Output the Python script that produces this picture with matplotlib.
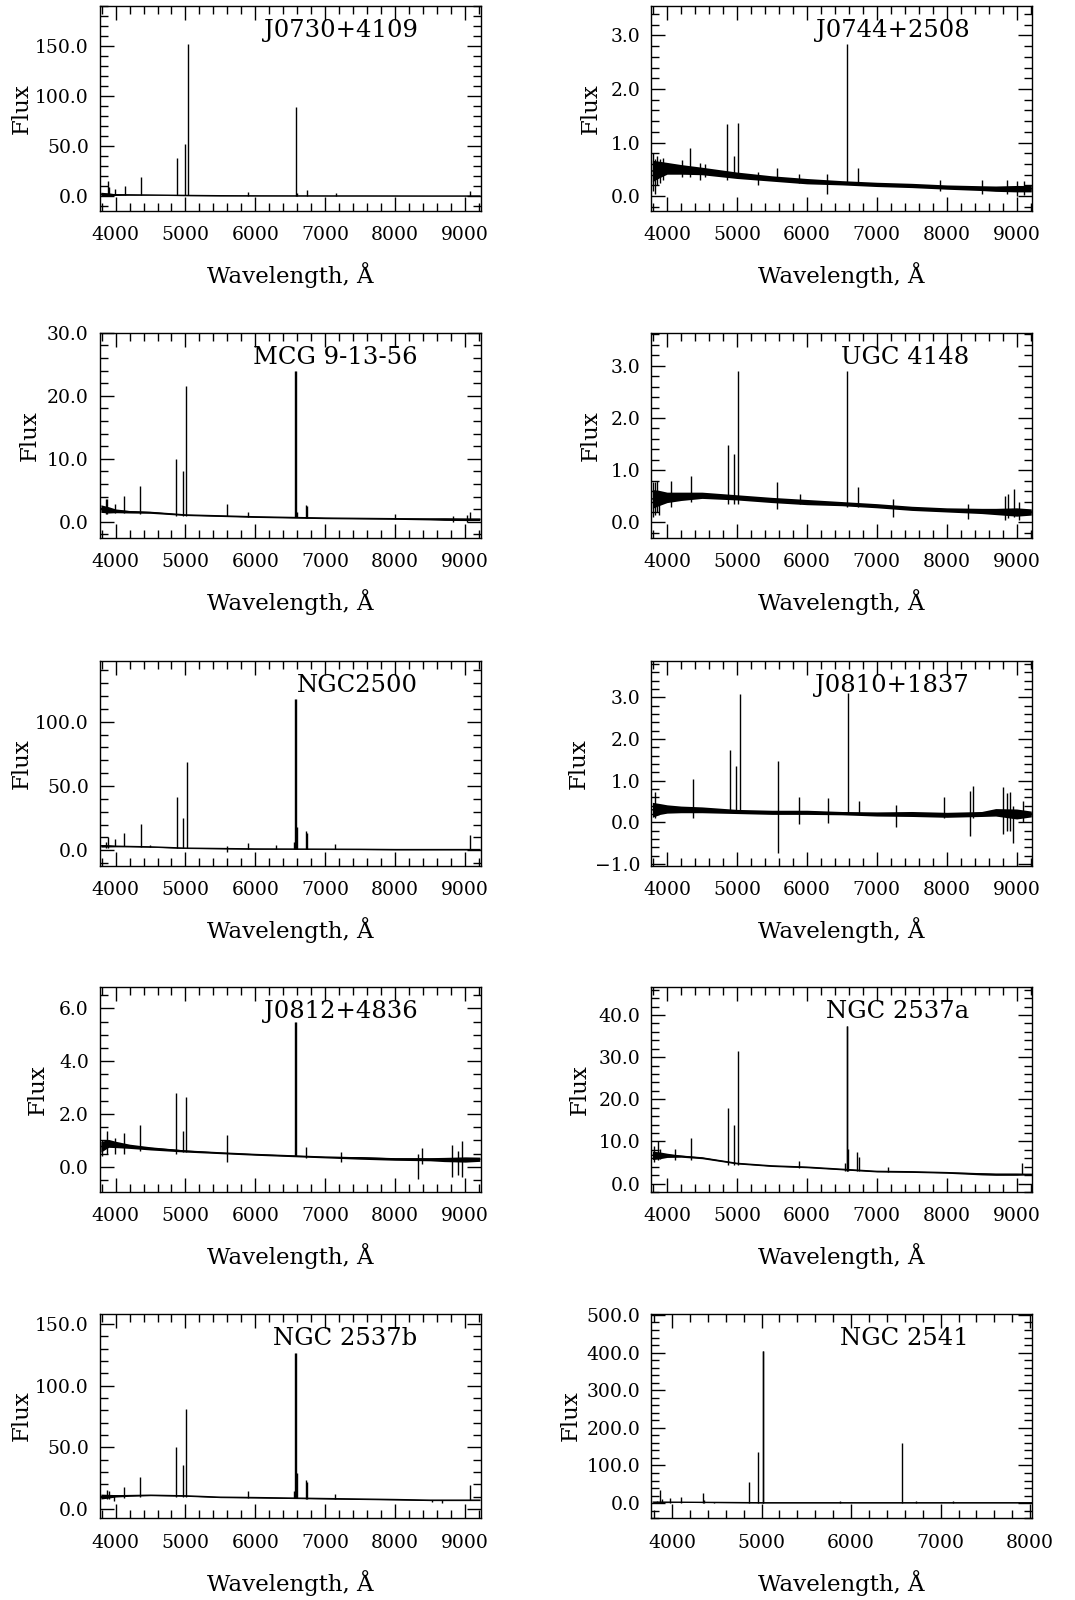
import numpy as np
import matplotlib.pyplot as plt
from matplotlib.ticker import MultipleLocator, FuncFormatter

plt.rcParams['font.family'] = ['DejaVu Serif']

# continuum knots (Angstrom), shared by all spectra
cont_w = [3790, 3900, 4000, 4200, 4500, 5000, 5500, 6000, 6500, 7000,
          7500, 8000, 8500, 8700, 9000, 9210]

names = ["J0730+4109", "J0744+2508", "MCG 9-13-56", "UGC 4148", "NGC2500",
         "J0810+1837", "J0812+4836", "NGC 2537a", "NGC 2537b", "NGC 2541"]

# continuum level and noise half-width at the knots
j0730_cont = [2.0, 1.8, 1.5, 1.4, 1.2, 0.8, 0.5, 0.4, 0.35, 0.3, 0.3, 0.25, 0.2, 0.2, 0.2, 0.2]
j0730_noise = [2.0, 1.5, 0.8, 0.4, 0.3, 0.3, 0.2, 0.2, 0.2, 0.2, 0.2, 0.2, 0.2, 0.2, 0.2, 0.2]
j0744_cont = [0.47, 0.5, 0.52, 0.5, 0.47, 0.39, 0.33, 0.28, 0.25, 0.22, 0.2, 0.17, 0.15, 0.14, 0.14, 0.14]
j0744_noise = [0.2, 0.15, 0.11, 0.09, 0.07, 0.06, 0.05, 0.05, 0.04, 0.04, 0.04, 0.04, 0.045, 0.05, 0.06, 0.06]
mcg_cont = [2.1, 1.9, 1.75, 1.6, 1.5, 1.1, 0.95, 0.8, 0.7, 0.6, 0.55, 0.5, 0.45, 0.43, 0.4, 0.4]
mcg_noise = [0.6, 0.5, 0.3, 0.2, 0.15, 0.1, 0.1, 0.1, 0.1, 0.1, 0.1, 0.1, 0.15, 0.2, 0.2, 0.2]
ugc_cont = [0.45, 0.47, 0.48, 0.5, 0.52, 0.48, 0.43, 0.39, 0.36, 0.32, 0.27, 0.24, 0.22, 0.21, 0.2, 0.2]
ugc_noise = [0.18, 0.14, 0.1, 0.08, 0.06, 0.05, 0.05, 0.05, 0.04, 0.04, 0.04, 0.04, 0.05, 0.06, 0.08, 0.06]
n2500_cont = [3.4, 3.3, 3.1, 2.9, 2.6, 1.6, 1.3, 1.0, 0.9, 0.8, 0.7, 0.5, 0.5, 0.5, 0.5, 0.5]
n2500_noise = [1.0, 0.8, 0.5, 0.3, 0.3, 0.3, 0.3, 0.3, 0.3, 0.3, 0.3, 0.3, 0.3, 0.3, 0.3, 0.3]
j0810_cont = [0.3, 0.32, 0.32, 0.31, 0.3, 0.26, 0.24, 0.24, 0.22, 0.2, 0.2, 0.18, 0.2, 0.24, 0.2, 0.2]
j0810_noise = [0.18, 0.13, 0.1, 0.08, 0.07, 0.05, 0.05, 0.05, 0.04, 0.05, 0.06, 0.06, 0.06, 0.09, 0.12, 0.07]
j0812_cont = [0.76, 0.89, 0.85, 0.78, 0.7, 0.6, 0.53, 0.47, 0.42, 0.37, 0.34, 0.3, 0.29, 0.28, 0.28, 0.29]
j0812_noise = [0.2, 0.15, 0.12, 0.08, 0.06, 0.04, 0.03, 0.03, 0.03, 0.03, 0.05, 0.05, 0.06, 0.08, 0.1, 0.08]
n2537a_cont = [6.7, 6.7, 6.7, 6.5, 6.1, 4.8, 4.2, 3.9, 3.4, 2.9, 2.8, 2.6, 2.3, 2.2, 2.2, 2.2]
n2537a_noise = [1.0, 0.8, 0.5, 0.25, 0.2, 0.15, 0.15, 0.15, 0.15, 0.15, 0.15, 0.15, 0.25, 0.25, 0.25, 0.15]
n2537b_cont = [10.2, 10.5, 10.8, 11.0, 11.3, 10.8, 9.7, 9.4, 9.0, 8.6, 8.2, 7.8, 7.3, 7.3, 7.3, 7.3]
n2537b_noise = [2.0, 1.5, 1.0, 0.6, 0.4, 0.4, 0.4, 0.4, 0.4, 0.4, 0.4, 0.4, 0.4, 0.4, 0.4, 0.4]
n2541_cont = [2.6, 2.6, 2.5, 2.2, 1.8, 1.0, 1.0, 1.0, 1.0, 1.0, 1.0, 1.0, 1.0, 1.0, 1.0, 1.0]
n2541_noise = [1.5, 1.5, 1.0, 0.5, 0.5, 0.5, 0.5, 0.5, 0.5, 0.5, 0.5, 0.5, 0.5, 0.5, 0.5, 0.5]

# narrow features: (wavelength, bottom, top)
j0730_lines = [(3890, 2, 15), (3905, 2, 9), (3990, 1.5, 7), (4134, 1.4, 10), (4368, 1.3, 19),
               (4885, 0.9, 38), (4986, 0.8, 52), (5029, 0.8, 152), (5890, 0.4, 4),
               (6574, 0.35, 89), (6593, 0.35, 3), (6737, 0.3, 6), (7148, 0.3, 3), (9072, 0.2, 5)]
j0744_lines = [(3800, 0.1, 0.8), (3830, 0.05, 0.7), (3860, 0.2, 0.75), (3900, 0.25, 0.7),
               (3948, 0.3, 0.72), (4214, 0.35, 0.68), (4333, 0.35, 0.9), (4476, 0.3, 0.62),
               (4548, 0.35, 0.6), (4857, 0.3, 1.34), (4962, 0.35, 0.75), (5010, 0.35, 1.37),
               (5300, 0.2, 0.45), (5571, 0.3, 0.52), (5881, 0.25, 0.42), (6295, 0.05, 0.41),
               (6571, 0.22, 2.83), (6738, 0.2, 0.52), (7900, 0.1, 0.3), (8500, 0.05, 0.3),
               (8860, 0.05, 0.3), (9000, 0.0, 0.28), (9100, 0.02, 0.28)]
mcg_lines = [(3870, 1.2, 3.7), (3880, 1.3, 3.6), (3990, 1.4, 2.8), (4120, 1.4, 4.1),
             (4350, 1.3, 5.7), (4871, 1.0, 9.9), (4971, 1.0, 8.05), (5014, 1.0, 21.6),
             (5589, 0.9, 2.8), (5890, 0.8, 1.6), (6569, 0.7, 23.9), (6576, 0.7, 23.9),
             (6588, 0.7, 1.5), (6722, 0.6, 2.7), (6737, 0.6, 2.5), (7990, 0.5, 1.2),
             (8830, 0.0, 1.0), (9030, 0.0, 1.1), (9072, 0.3, 1.5)]
ugc_lines = [(3800, 0.1, 0.78), (3824, 0.15, 0.78), (3858, 0.2, 0.8), (3880, 0.15, 0.5),
             (4057, 0.3, 0.8), (4348, 0.4, 0.89), (4867, 0.35, 1.48), (4962, 0.35, 1.31),
             (5014, 0.35, 2.9), (5571, 0.25, 0.78), (5895, 0.35, 0.54), (6571, 0.3, 2.9),
             (6729, 0.3, 0.67), (7238, 0.1, 0.45), (8310, 0.06, 0.35), (8830, 0.05, 0.5),
             (8870, 0.08, 0.55), (8962, 0.1, 0.64), (9030, 0.05, 0.4)]
n2500_lines = [(3870, 2, 6.7), (3890, 2, 10.4), (3990, 3, 8.5), (4120, 3, 13), (4359, 2.8, 20.7),
               (4488, 2.6, 4), (4876, 1.7, 41.7), (4971, 1.6, 25.4), (5019, 1.6, 69),
               (5593, -1.3, 3.6), (5890, 1.0, 5.7), (6301, 0.9, 3.9), (6550, 0.9, 6.7),
               (6569, 0.9, 118), (6575, 0.9, 118), (6588, 0.9, 18.4), (6722, 0.8, 15),
               (6737, 0.8, 13.7), (7143, 0.8, 4.7), (9072, 0.5, 12)]
j0810_lines = [(3833, 0.1, 0.72), (4367, 0.1, 1.04), (4895, 0.25, 1.74), (4986, 0.25, 1.35),
               (5038, 0.25, 3.08), (5581, -0.74, 1.48), (5890, -0.04, 0.62), (6305, -0.02, 0.58),
               (6595, 0.2, 3.1), (6748, 0.2, 0.5), (7271, -0.12, 0.42), (7962, 0.1, 0.62),
               (8333, -0.34, 0.76), (8381, 0.1, 0.88), (8810, -0.28, 0.84), (8860, -0.2, 0.7),
               (8905, -0.2, 0.72), (8943, -0.5, 0.4), (9095, 0.0, 0.52)]
j0812_lines = [(3800, 0.4, 1.0), (3880, 0.5, 1.35), (3990, 0.5, 1.08), (4120, 0.5, 1.27),
               (4350, 0.6, 1.58), (4871, 0.5, 2.78), (4971, 0.55, 1.37), (5014, 0.55, 2.66),
               (5589, 0.19, 1.2), (6569, 0.4, 5.47), (6575, 0.4, 5.47), (6727, 0.35, 0.76),
               (7230, 0.2, 0.57), (8330, -0.44, 0.5), (8388, 0.1, 0.72), (8809, -0.38, 0.82),
               (8900, -0.3, 0.6), (8952, -0.38, 0.99)]
n2537a_lines = [(3820, 5.2, 9.0), (3867, 5.5, 10.2), (3905, 5.8, 8.3), (4110, 5.5, 8.2),
                (4348, 5.7, 10.7), (4871, 4.5, 17.9), (4962, 4.5, 13.9), (5014, 4.5, 31.5),
                (5890, 3.6, 5.3), (6548, 3.1, 4.8), (6571, 3.1, 37.5), (6577, 3.1, 37.5),
                (6585, 3.1, 8.1), (6724, 3.0, 7.5), (6740, 3.0, 6.3), (7157, 2.7, 4.0),
                (9081, 2.2, 4.9)]
n2537b_lines = [(3871, 8, 15.3), (3900, 8, 14.8), (3980, 6.7, 11), (4120, 9, 18), (4350, 9.5, 26.3),
                (4871, 9.5, 50), (4971, 9.5, 35.8), (5014, 9.5, 81.5), (5890, 9.2, 14.8),
                (6550, 8.8, 14.8), (6569, 8.8, 126.3), (6575, 8.8, 126.3), (6588, 8.8, 29.6),
                (6718, 8.6, 23.7), (6737, 8.6, 22), (7144, 8.4, 12.1), (8522, 5.4, 7.3),
                (8670, 5.0, 7.3), (9072, 7.3, 19.6)]
n2541_lines = [(3815, 1, 3.5), (3833, 1, 6), (3870, 1, 34.5), (3885, 1, 10.6), (3974, 1, 12.4),
               (4104, 1, 15), (4341, 1, 26.5), (4360, 1, 8), (4474, 1, 3.5), (4863, 1, 57.4),
               (4963, 1, 137), (5011, 1, 404), (5014, 1, 404), (5881, 1, 6), (6567, 1, 160.8),
               (6722, 1, 5.3), (7141, 1, 4.4)]

conts = [j0730_cont, j0744_cont, mcg_cont, ugc_cont, n2500_cont,
         j0810_cont, j0812_cont, n2537a_cont, n2537b_cont, n2541_cont]
noises = [j0730_noise, j0744_noise, mcg_noise, ugc_noise, n2500_noise,
          j0810_noise, j0812_noise, n2537a_noise, n2537b_noise, n2541_noise]
lines = [j0730_lines, j0744_lines, mcg_lines, ugc_lines, n2500_lines,
         j0810_lines, j0812_lines, n2537a_lines, n2537b_lines, n2541_lines]

# axis setup per panel
ylims = [(-15, 190), (-0.28, 3.54), (-2.5, 30), (-0.29, 3.63), (-12, 147.5),
         (-1.04, 3.88), (-0.95, 6.8), (-2, 46.6), (-7.5, 158.5), (-40.6, 503.5)]
ymajor = [50, 1, 10, 1, 50, 1, 2, 10, 50, 100]
yminor = [10, 0.2, 2, 0.2, 10, 0.2, 0.5, 2, 10, 20]
ylabel_x = [-0.206, -0.16, -0.185, -0.16, -0.206, -0.191, -0.164, -0.188, -0.206, -0.212]

fig = plt.figure(figsize=(10.75, 16), dpi=100)
row_bottoms = [0.868, 0.664, 0.459, 0.255, 0.051]
col_lefts = [0.093, 0.606]
fmt = FuncFormatter(lambda v, p: f'{v:.1f}'.replace('-', '\u2212'))

for i in range(10):
    r, c = divmod(i, 2)
    ax = fig.add_axes([col_lefts[c], row_bottoms[r], 0.354, 0.128])
    cont = np.array(conts[i])
    noise = np.array(noises[i])
    ax.fill_between(cont_w, cont - noise, cont + noise, color='black', lw=0)
    ax.plot(cont_w, cont, color='black', lw=1.0)
    for w, lo, hi in lines[i]:
        ax.vlines(w, lo, hi, color='black', lw=1.0)

    if i == 9:
        ax.set_xlim(3770, 8020)
    else:
        ax.set_xlim(3777, 9220)
    ax.set_ylim(*ylims[i])
    ax.xaxis.set_major_locator(MultipleLocator(1000))
    ax.xaxis.set_minor_locator(MultipleLocator(200))
    ax.yaxis.set_major_locator(MultipleLocator(ymajor[i]))
    ax.yaxis.set_minor_locator(MultipleLocator(yminor[i]))
    ax.yaxis.set_major_formatter(fmt)
    ax.tick_params(which='both', direction='in', top=True, right=True, width=1.0,
                   labelsize=13.5)
    ax.tick_params(axis='x', which='major', pad=11)
    ax.tick_params(axis='y', which='major', pad=8)
    ax.tick_params(which='major', length=10)
    ax.tick_params(which='minor', length=6)
    for s in ax.spines.values():
        s.set_linewidth(1.0)

    ax.set_xlabel('Wavelength, Å', fontsize=16.5, labelpad=13)
    ax.set_ylabel('Flux', fontsize=16.5, va='center')
    ax.yaxis.set_label_coords(ylabel_x[i], 0.5)
    ax.text(0.835, 0.88, names[i], transform=ax.transAxes, ha='right', va='center',
            fontsize=17.5)

fig.savefig('out.png', dpi=100)
